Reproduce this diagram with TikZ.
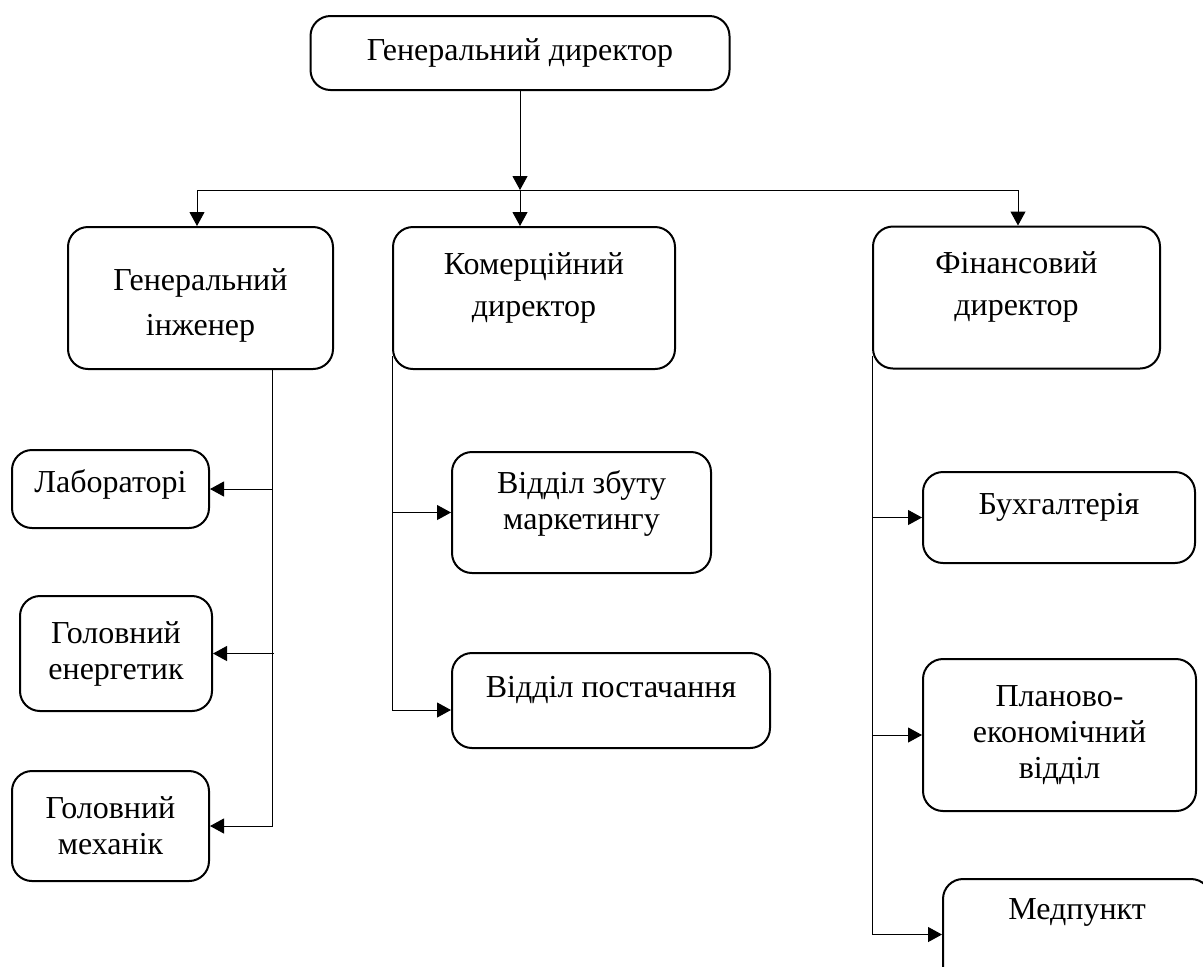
\documentclass[tikz,border=0pt]{standalone}
\usepackage{fontspec}
\setmainfont{Liberation Serif}
\usetikzlibrary{arrows.meta}
\newcommand\lowstrut[1]{\rule[-#1]{0pt}{0pt}}
\newcommand\highstrut[1]{\rule{0pt}{#1}}

\begin{document}
\begin{tikzpicture}[x=0.5pt, y=-0.5pt,
  box/.style={draw, rounded corners=10pt, line width=1pt, align=center, inner sep=0pt, font=\fontsize{16}{18}\selectfont},
  head/.style={box, font=\fontsize{16}{21}\selectfont},
  arr/.style={line width=0.5pt, -{Triangle[length=7pt,width=7.5pt]}}]
\useasboundingbox (0,0) rectangle (1203,966);

% top levels
\node [head, minimum width=209.5pt, minimum height=37pt] (gendir) at (520,53) {Генеральний директор};
\node [head, font=\fontsize{16}{22.5}\selectfont, minimum width=132.5pt, minimum height=71pt] (geneng) at (200.5,298) {\highstrut{18pt}Генеральний\\інженер};
\node [head, minimum width=141pt, minimum height=71pt] (comm) at (534,298) {Комерційний\\директор\lowstrut{13.5pt}};
\node [head, minimum width=143.5pt, minimum height=71pt] (fin) at (1016.5,297.5) {Фінансовий\\директор\lowstrut{13.5pt}};

% departments
\node [box, minimum width=98.5pt, minimum height=39pt] (lab) at (110.5,489) {Лабораторі\lowstrut{8pt}};
\node [box, minimum width=96pt, minimum height=57.5pt] (energ) at (116,653.5) {Головний\\енергетик};
\node [box, minimum width=98.5pt, minimum height=55pt] (mech) at (110.5,826) {Головний\\механік};
\node [box, minimum width=129.5pt, minimum height=60.5pt] (sales) at (581.5,512.5) {Відділ збуту\\маркетингу\lowstrut{12.5pt}};
\node [box, minimum width=159pt, minimum height=47.5pt] (supply) at (611,700.5) {Відділ постачання\lowstrut{13.5pt}};
\node [box, minimum width=136pt, minimum height=45.5pt] (acc) at (1059,517.5) {Бухгалтерія\lowstrut{13.5pt}};
\node [box, minimum width=136.5pt, minimum height=76pt] (plan) at (1059.5,735) {Планово-\\економічний\\відділ};
\node [box, minimum width=134pt, minimum height=55.5pt] (med) at (1077,934.5) {Медпункт\lowstrut{26pt}};

% bus under the director
\coordinate (bus) at (520,190);
\coordinate (busL) at (197,190);
\coordinate (busR) at (1018,190);
\draw[arr] (gendir) -- (bus);
\draw[line width=0.5pt] (busL) -- (busR);
\draw[arr] (busL) -- (busL |- geneng.north);
\draw[arr] (bus) -- (bus |- comm.north);
\draw[arr] (busR) -- (busR |- fin.north);

% trunks
\coordinate (engtrunk) at (272,369);
\draw[arr] (engtrunk) |- (mech.east);
\draw[arr] (engtrunk |- lab.east) -- (lab.east);
\draw[arr] ([xshift=1pt]engtrunk |- energ.east) -- (energ.east);

\coordinate (comtrunk) at ([yshift=7pt]comm.south west);
\draw[arr] (comtrunk) |- ([yshift=-4.75pt]supply.west);
\draw[arr] (comtrunk |- sales.west) -- (sales.west);

\coordinate (fintrunk) at ([yshift=7pt]fin.south west);
\draw[arr] (fintrunk) |- (med.west);
\draw[arr] (fintrunk |- acc.west) -- (acc.west);
\draw[arr] (fintrunk |- plan.west) -- (plan.west);
\end{tikzpicture}
\end{document}
